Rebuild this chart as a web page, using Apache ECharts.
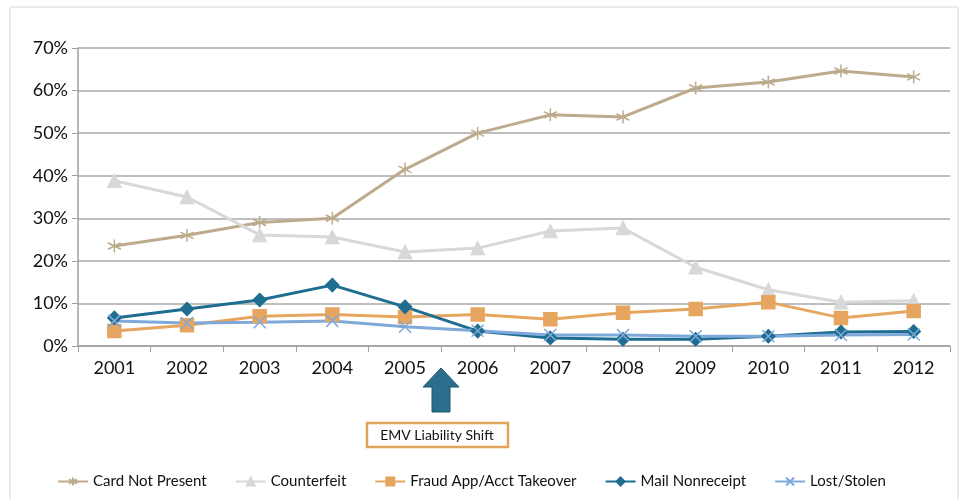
<!DOCTYPE html>
<html>
<head>
<meta charset="utf-8">
<script src="https://cdn.jsdelivr.net/npm/echarts@6/dist/echarts.min.js"></script>
<style>
  html, body { margin: 0; padding: 0; background: #fff; }
  #chart { width: 963px; height: 499px; }
</style>
</head>
<body>
<div id="chart"></div>
<script>
// data
const years = ["2001", "2002", "2003", "2004", "2005", "2006", "2007", "2008", "2009", "2010", "2011", "2012"];
const cardNotPresent = [23.5, 26, 29, 30, 41.5, 50, 54.3, 53.8, 60.6, 62, 64.6, 63.2];
const counterfeit = [38.8, 35, 26.1, 25.6, 22.1, 23, 27, 27.7, 18.5, 13.2, 10.3, 10.6];
const fraudApp = [3.5, 4.9, 7, 7.4, 6.8, 7.4, 6.3, 7.8, 8.7, 10.3, 6.6, 8.2];
const mailNonreceipt = [6.6, 8.7, 10.8, 14.3, 9.2, 3.5, 1.9, 1.6, 1.6, 2.3, 3.3, 3.4];
const lostStolen = [5.9, 5.4, 5.6, 5.9, 4.5, 3.6, 2.6, 2.6, 2.3, 2.3, 2.6, 2.7];

const seriesNames = ["Card Not Present", "Counterfeit", "Fraud App/Acct Takeover", "Mail Nonreceipt", "Lost/Stolen"];
const colors = ["#bcab8c", "#d8d8d8", "#e6a660", "#1f6e91", "#7ea9da"];

// asterisk and x markers
const starPath = "path://M0,-10L0,10M-8.7,-5L8.7,5M-8.7,5L8.7,-5";
const xPath = "path://M-8,-8L8,8M-8,8L8,-8";

const chart = echarts.init(document.getElementById("chart"));

function line(name, data, color, symbol, size) {
  return {
    name: name,
    type: "line",
    data: data,
    symbol: symbol,
    symbolSize: size,
    lineStyle: { color: color, width: 3 },
    itemStyle: { color: color, borderColor: color, borderWidth: 1.5 },
    emphasis: { disabled: true },
    z: 3
  };
}

chart.setOption({
  animation: false,
  backgroundColor: "#fff",
  color: colors,
  textStyle: { fontFamily: "Lato, 'Open Sans', sans-serif" },
  grid: { left: 78, right: 13, top: 48, bottom: 153 },
  legend: {
    bottom: 5,
    left: 52,
    itemGap: 28,
    itemWidth: 30,
    itemHeight: 10,
    textStyle: { fontSize: 15, color: "#111" },
    data: seriesNames
  },
  xAxis: {
    type: "category",
    data: years,
    boundaryGap: true,
    axisLine: { lineStyle: { color: "#a0a0a0", width: 1.5 } },
    axisTick: { show: true, length: 6, lineStyle: { color: "#a0a0a0" } },
    axisLabel: { fontSize: 18, color: "#111", margin: 13 }
  },
  yAxis: {
    type: "value",
    min: 0,
    max: 70,
    interval: 10,
    axisLine: { show: true, lineStyle: { color: "#a0a0a0", width: 1.5 } },
    axisTick: { show: true, length: 6, lineStyle: { color: "#a0a0a0" } },
    axisLabel: { fontSize: 18, color: "#111", margin: 10, formatter: "{value}%" },
    splitLine: { lineStyle: { color: "#a8a8a8", width: 1.5 } }
  },
  series: [
    line(seriesNames[0], cardNotPresent, colors[0], starPath, 13),
    line(seriesNames[1], counterfeit, colors[1], "triangle", 13),
    line(seriesNames[2], fraudApp, colors[2], "rect", 13),
    line(seriesNames[3], mailNonreceipt, colors[3], "diamond", 13),
    line(seriesNames[4], lostStolen, colors[4], xPath, 12)
  ],
  graphic: [
    {
      type: "rect",
      shape: { x: 10, y: 7, width: 948, height: 500 },
      style: { fill: "none", stroke: "#d6d6d6", lineWidth: 1 },
      silent: true,
      z: 0
    },
    {
      // EMV arrow
      type: "polygon",
      shape: {
        points: [[441, 368], [459, 387], [450, 387], [450, 412], [432, 412], [432, 387], [423, 387]]
      },
      style: { fill: "#2b6f8e", stroke: "#1d5670", lineWidth: 1 },
      z: 10
    },
    {
      type: "rect",
      shape: { x: 367, y: 423, width: 141, height: 24 },
      style: { fill: "#fff", stroke: "#e0a45c", lineWidth: 2.5 },
      z: 10
    },
    {
      type: "text",
      x: 437,
      y: 435,
      style: {
        text: "EMV Liability Shift",
        fill: "#111",
        font: "14px Lato, sans-serif",
        textAlign: "center",
        textVerticalAlign: "middle"
      },
      z: 11
    }
  ]
});
</script>
</body>
</html>
